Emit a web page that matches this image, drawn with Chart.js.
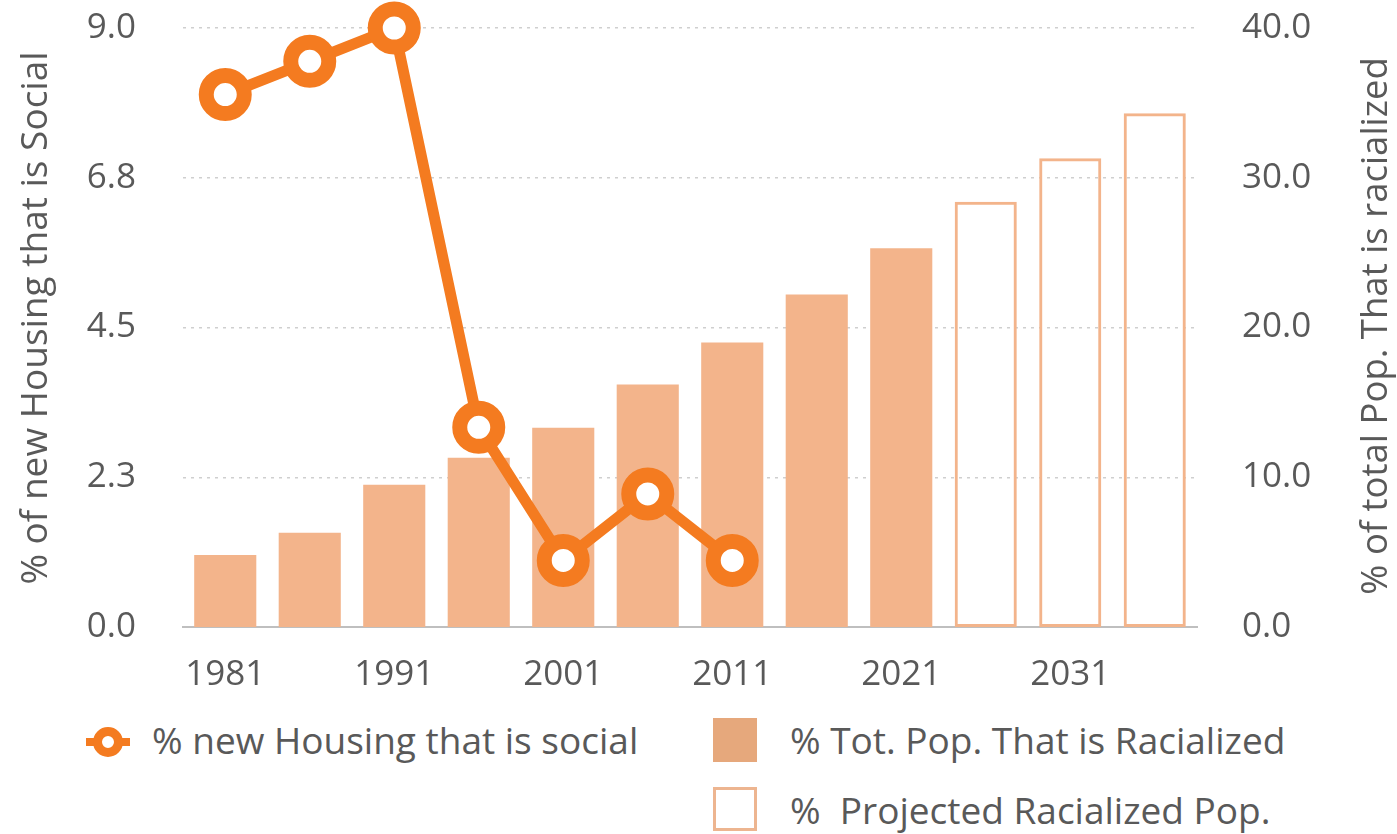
<!DOCTYPE html>
<html>
<head>
<meta charset="utf-8">
<script src="https://cdn.jsdelivr.net/npm/chart.js@4.4.0/dist/chart.umd.min.js"></script>
<style>
  body { margin: 0; background: #fff; font-family: 'Open Sans', sans-serif; }
  #wrap { position: relative; width: 1397px; height: 834px; overflow: hidden; }
  #chartBox { position: absolute; left: 0; top: 0; width: 1397px; height: 700px; }
  .leg { position: absolute; color: #595959; font-size: 37px; line-height: 40px; white-space: pre; }
  .box { position: absolute; box-sizing: border-box; }
</style>
</head>
<body>
<div id="wrap">
  <div id="chartBox"><canvas id="myChart"></canvas></div>

  <svg class="box" style="left:86px; top:726px;" width="44" height="32">
    <line x1="0" y1="16" x2="44" y2="16" stroke="#F47B20" stroke-width="8"></line>
    <circle cx="22" cy="16" r="10.5" fill="#fff" stroke="#F47B20" stroke-width="9"></circle>
  </svg>
  <div class="leg" id="leg1" style="left:152px; top:720px;"></div>

  <div class="box" style="left:713px; top:718px; width:44px; height:44px; background:#E6A87C;"></div>
  <div class="leg" id="leg2" style="left:790px; top:720px;"></div>

  <div class="box" style="left:713px; top:787px; width:44px; height:44px; border:3px solid #EDB590;"></div>
  <div class="leg" id="leg3" style="left:790px; top:790px;"></div>
</div>

<script>
// données
const years = ['1981', '1986', '1991', '1996', '2001', '2006', '2011', '2016', '2021', '2026', '2031', '2036'];
const socialHousing = [8.0, 8.5, 9.0, 3.0, 1.0, 2.0, 1.0, null, null, null, null, null];
const racialized = [4.8, 6.3, 9.5, 11.3, 13.3, 16.2, 19.0, 22.2, 25.3, null, null, null];
const projected = [null, null, null, null, null, null, null, null, null, 28.4, 31.3, 34.3];

const leftTitle = '% of new Housing that is Social';
const rightTitle = '% of total Pop. That is racialized';
const legendLabels = ['% new Housing that is social', '% Tot. Pop. That is Racialized', '%  Projected Racialized Pop.'];

document.getElementById('leg1').textContent = legendLabels[0];
document.getElementById('leg2').textContent = legendLabels[1];
document.getElementById('leg3').textContent = legendLabels[2];

const textGray = '#595959';
const orange = '#F47B20';
const peach = '#F3B48B';

// titres des axes, tous deux lus de bas en haut
const sideTitles = {
  id: 'sideTitles',
  afterDraw(chart) {
    const ctx = chart.ctx;
    ctx.save();
    ctx.fillStyle = textGray;
    ctx.font = '37px "Open Sans"';
    ctx.textAlign = 'center';
    ctx.textBaseline = 'middle';
    ctx.translate(36, 318);
    ctx.rotate(-Math.PI / 2);
    ctx.fillText(leftTitle, 0, 0);
    ctx.restore();

    ctx.save();
    ctx.fillStyle = textGray;
    ctx.font = '36.5px "Open Sans"';
    ctx.textAlign = 'center';
    ctx.textBaseline = 'middle';
    ctx.translate(1377, 326);
    ctx.rotate(-Math.PI / 2);
    ctx.fillText(rightTitle, 0, 0);
    ctx.restore();
  }
};

Chart.defaults.font.family = "'Open Sans', sans-serif";
Chart.defaults.color = textGray;

// on retire la marge automatique des étiquettes pour fixer la zone du graphique
const fixWidth = (w) => (s) => { s.width = w; s.paddingTop = 0; s.paddingBottom = 0; };

const ctx = document.getElementById('myChart').getContext('2d');
new Chart(ctx, {
  type: 'bar',
  data: {
    labels: years,
    datasets: [
      {
        type: 'line',
        label: legendLabels[0],
        data: socialHousing,
        yAxisID: 'y',
        borderColor: orange,
        borderWidth: 11,
        pointRadius: 19,
        pointBorderWidth: 15,
        pointBackgroundColor: '#fff',
        pointBorderColor: orange,
        tension: 0,
        clip: false,
      },
      {
        label: legendLabels[1],
        data: racialized,
        yAxisID: 'y2',
        backgroundColor: peach,
        borderWidth: 0,
        grouped: false,
        barPercentage: 0.735,
        categoryPercentage: 1,
      },
      {
        label: legendLabels[2],
        data: projected,
        yAxisID: 'y2',
        backgroundColor: 'rgba(255,255,255,0)',
        borderColor: peach,
        borderWidth: 3,
        borderSkipped: false,
        grouped: false,
        barPercentage: 0.735,
        categoryPercentage: 1,
      },
    ],
  },
  options: {
    responsive: true,
    maintainAspectRatio: false,
    animation: false,
    layout: { autoPadding: false, padding: { top: 28, left: 0, right: 0, bottom: 0 } },
    plugins: {
      legend: { display: false },
      tooltip: { enabled: false },
    },
    scales: {
      x: {
        offset: true,
        grid: { display: false, drawTicks: false },
        border: { color: '#BFBFBF', width: 2 },
        ticks: {
          autoSkip: false,
          maxRotation: 0,
          padding: 27,
          font: { size: 35 },
          callback: function (v, i) { return i % 2 === 0 ? this.getLabelForValue(v) : ''; },
        },
        afterFit: (s) => { s.height = 73; s.paddingLeft = 0; s.paddingRight = 0; },
      },
      y: {
        position: 'left',
        min: 0,
        max: 9,
        ticks: {
          stepSize: 2.25,
          padding: 47,
          font: { size: 35 },
          callback: (v) => v.toFixed(1),
        },
        grid: { color: '#CFCFCF', lineWidth: 1.5, drawTicks: false },
        border: { display: false, dash: [3, 5] },
        afterFit: fixWidth(183),
      },
      y2: {
        position: 'right',
        min: 0,
        max: 40,
        ticks: {
          stepSize: 10,
          padding: 45,
          font: { size: 35 },
          callback: (v) => v.toFixed(1),
        },
        grid: { display: false, drawTicks: false },
        border: { display: false },
        afterFit: fixWidth(200),
      },
    },
  },
  plugins: [sideTitles],
});
</script>
</body>
</html>
